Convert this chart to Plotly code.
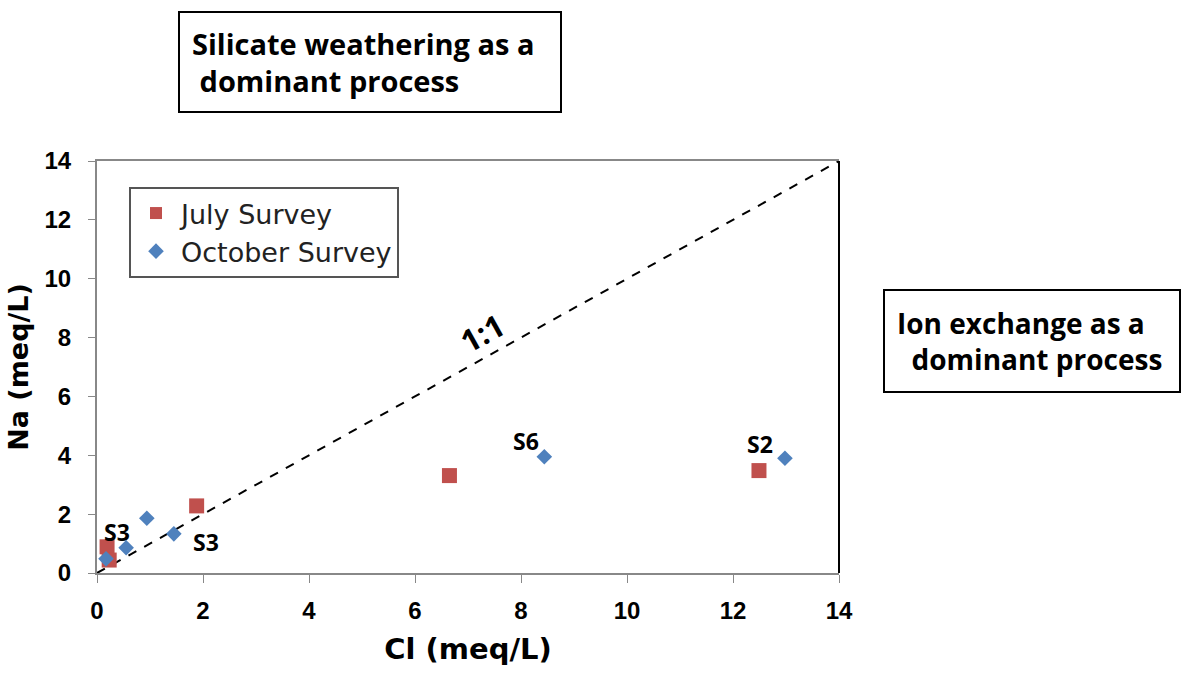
import plotly.graph_objects as go

# Data
july_cl = [1.88, 0.19, 0.23, 6.65, 12.49]
july_na = [2.28, 0.89, 0.44, 3.31, 3.48]
oct_cl = [0.17, 0.55, 0.94, 1.45, 8.44, 12.98]
oct_na = [0.48, 0.86, 1.86, 1.33, 3.95, 3.90]
line_x = [0, 14]
line_y = [0, 14]
tick_vals = [0, 2, 4, 6, 8, 10, 12, 14]

# site labels: (x, y, text)
site_labels = [(0.37, 1.40, "S3"), (2.05, 1.06, "S3"), (8.1, 4.5, "S6"), (12.5, 4.4, "S2")]

W, H = 1190, 677
ML, MR, MT, MB = 97, 351, 161, 104
PW, PH = W - ML - MR, H - MT - MB

def px(xp):
    return (xp - ML) / PW

def py(yp):
    return (H - MB - yp) / PH

fig = go.Figure()
fig.add_trace(go.Scatter(x=line_x, y=line_y, mode="lines",
                         line=dict(color="black", width=2, dash="dash"),
                         showlegend=False, hoverinfo="skip"))
fig.add_trace(go.Scatter(x=july_cl, y=july_na, mode="markers", name="July Survey",
                         marker=dict(symbol="square", size=15, color="#C0504D",
                                     line=dict(width=0)), cliponaxis=False))
fig.add_trace(go.Scatter(x=oct_cl, y=oct_na, mode="markers", name="October Survey",
                         marker=dict(symbol="diamond", size=12, color="#4F81BD",
                                     line=dict(width=0)), cliponaxis=False))

annotations = []
for (lx, ly, t) in site_labels:
    annotations.append(dict(x=lx, y=ly, xref="x", yref="y", text=t, showarrow=False,
                            font=dict(family="Open Sans", size=23, color="black", weight="bold")))

annotations.append(dict(x=7.26, y=8.15, xref="x", yref="y", text="1:1", showarrow=False,
                        textangle=-29,
                        font=dict(family="Open Sans", size=31, color="black", weight="bold")))

annotations.append(dict(x=px(370), y=py(62), xref="paper", yref="paper",
                        xanchor="center", yanchor="middle",
                        text="Silicate weathering as a<br> dominant process", showarrow=False,
                        align="left", width=356, height=74, borderpad=12,
                        bordercolor="black", borderwidth=2, bgcolor="white",
                        font=dict(family="Open Sans", size=29, color="black", weight="bold")))
annotations.append(dict(x=px(1032), y=py(341), xref="paper", yref="paper",
                        xanchor="center", yanchor="middle",
                        text="Ion exchange as a<br>  dominant process", showarrow=False,
                        align="left", width=270, height=76, borderpad=12,
                        bordercolor="black", borderwidth=2, bgcolor="white",
                        font=dict(family="Open Sans", size=28, color="black", weight="bold")))

fig.update_layout(
    width=W, height=H,
    margin=dict(l=ML, r=MR, t=MT, b=MB),
    paper_bgcolor="white", plot_bgcolor="white",
    annotations=annotations,
    legend=dict(x=px(129), y=py(187), xanchor="left", yanchor="top",
                bordercolor="#555555", borderwidth=2, bgcolor="white",
                font=dict(family="DejaVu Sans", size=27, color="#222222"),
                itemsizing="constant", itemwidth=40),
    shapes=[dict(type="line", xref="x domain", yref="y domain", x0=1, x1=1, y0=0, y1=1,
                 line=dict(color="black", width=2))],
)
fig.update_xaxes(range=[0, 14], tickvals=tick_vals, showgrid=False, zeroline=False,
                 showline=True, linecolor="#888888", linewidth=2, mirror=True,
                 ticks="outside", ticklen=8, tickcolor="#888888", tickwidth=1,
                 ticklabelstandoff=7,
                 tickfont=dict(family="Liberation Sans", size=24, color="black", weight="bold"),
                 title=dict(text="Cl (meq/L)", standoff=16,
                            font=dict(family="DejaVu Sans", size=29, color="black", weight="bold")))
fig.update_yaxes(range=[0, 14], tickvals=tick_vals, showgrid=False, zeroline=False,
                 showline=True, linecolor="#888888", linewidth=2,
                 ticks="outside", ticklen=7, tickcolor="#888888", tickwidth=1,
                 ticklabelstandoff=12,
                 tickfont=dict(family="Liberation Sans", size=24, color="black", weight="bold"),
                 title=dict(text="Na (meq/L)", standoff=8,
                            font=dict(family="DejaVu Sans", size=27, color="black", weight="bold")))

fig.write_html("out.html")
